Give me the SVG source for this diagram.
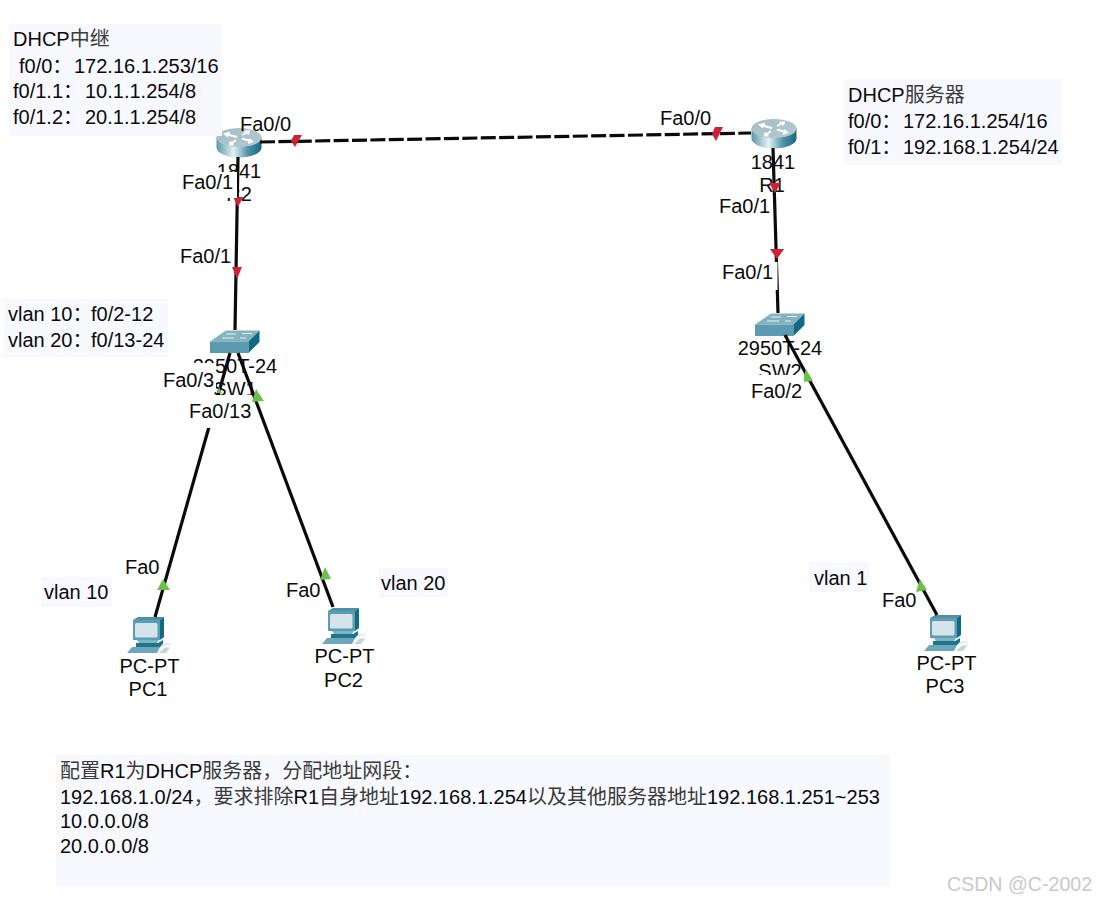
<svg xmlns="http://www.w3.org/2000/svg" width="1098" height="901" viewBox="0 0 1098 901">
<style>
text{font-family:"Liberation Sans","Noto Sans CJK SC",sans-serif;font-size:20px;fill:#0a0a0a}
.m{text-anchor:middle}
.c{fill:#3a3a3a}
.panel{fill:#f8f9fe}
.bg{fill:#fff}
.link{stroke:#0a0a0a;stroke-width:3.2;fill:none}
.dash{stroke-dasharray:15 3.400}
.red{fill:#cf2236}
.green{fill:#6cbf4b}
.wm{fill:#c9c9c9;font-size:19.6px}
</style>
<defs>
<linearGradient id="side" x1="0" x2="1" y1="0" y2="0"><stop offset="0" stop-color="#5a98a8"/><stop offset=".38" stop-color="#e4f1f3"/><stop offset=".7" stop-color="#4f93a6"/><stop offset="1" stop-color="#17697f"/></linearGradient>
<linearGradient id="top" x1="0" x2="1" y1="0" y2="1"><stop offset="0" stop-color="#a6bdc7"/><stop offset="1" stop-color="#b4c9d1"/></linearGradient>
<symbol id="router" width="46" height="30" viewBox="0 0 46 30" overflow="visible">
<path d="M0.500 9.500V19.500C0.500 25 10.500 29.500 23 29.500S45.500 25 45.500 19.500V9.500Z" fill="url(#side)"/>
<ellipse cx="23" cy="9.500" rx="22.500" ry="9.500" fill="url(#top)"/>
<path d="M9 6L21 9M14 4.500L9 6L12 8.500M36 13.500L26 10.500M32 15L36 13.500L33 11M26 7L33 3.500M28.500 3.500L33 3.500L32 6.500M20 12L14 16.500M17.500 16.500L14 16.500L14.500 13.500" stroke="#fff" stroke-width="1.900" fill="none"/>
</symbol>
<symbol id="switch" width="50" height="24" viewBox="0 0 50 24" overflow="visible">
<path d="M0 11.500L16 0.500H49.500L38.500 11.500Z" fill="#83b3c1"/>
<path d="M0 11.500H38.500V23H0Z" fill="#5b9bb0"/>
<path d="M38.500 11.500L49.500 0.500V12L38.500 23Z" fill="#0f6a85"/>
<path d="M16 4H26M32 3.500H42M12 8H24M30 8H36" stroke="#e8f2f4" stroke-width="1.200" fill="none"/>
</symbol>
<symbol id="pc" width="40" height="38" viewBox="0 0 40 38" overflow="visible">
<path d="M1 3L6 0H32L28 3Z" fill="#4e90a6"/>
<path d="M1 3H28V23H1Z" fill="#5c9db3"/>
<path d="M28 3L32 0V20L28 23Z" fill="#0f6a85"/>
<rect x="3" y="6" width="22.500" height="14.500" rx="1.500" fill="#d5e4ea"/>
<path d="M5 23H27L25 26H7Z" fill="#7fb3c2"/>
<path d="M4 26H26L31 23V27L27 31H4Z" fill="#1f7590"/>
<path d="M-5 36L0 30H28L25 36Z" fill="#6da8ba"/>
<path d="M27 36L33 30.500H38L34 36Z" fill="#c4d5da"/>
<path d="M31 29C33 26 37 26 38 29" stroke="#c4d5da" stroke-width="1" fill="none"/>
</symbol>
</defs>

<g id="R0">
<use href="#router" x="216" y="128"/>
<text class="m" x="239" y="178">1841</text>
<text class="m" x="239" y="201">R2</text>
</g>
<g id="R1">
<use href="#router" x="751" y="119"/>
<text class="m" x="773" y="169">1841</text>
<text class="m" x="772" y="192">R1</text>
</g>
<g id="SW1">
<use href="#switch" x="210" y="330"/>
<text class="m" x="235" y="373">2950T-24</text>
<text class="m" x="235" y="396">SW1</text>
</g>
<g id="SW2">
<use href="#switch" x="755" y="313"/>
<text class="m" x="780" y="355">2950T-24</text>
<text class="m" x="780" y="378">SW2</text>
</g>
<g id="PC1">
<use href="#pc" x="132" y="617"/>
<text class="m" x="149.500" y="673">PC-PT</text>
<text class="m" x="148" y="696">PC1</text>
</g>
<g id="PC2">
<use href="#pc" x="327" y="608"/>
<text class="m" x="344.500" y="663">PC-PT</text>
<text class="m" x="343.500" y="687">PC2</text>
</g>
<g id="PC3">
<use href="#pc" x="929" y="615"/>
<text class="m" x="946.500" y="670">PC-PT</text>
<text class="m" x="945" y="693">PC3</text>
</g>

<g id="connectors">
<path class="link dash" d="M260 142L751 133"/>
<path class="link" d="M238 157L235 330"/>
<path class="link" d="M773 148L778 313"/>
<path class="link" d="M230 353L155 617"/>
<path class="link" d="M238 353L333 607"/>
<path class="link" d="M785 335L937 615"/>
<path class="red" d="M294 135L302 135L295 147L291 141Z"/>
<path class="red" d="M715 127L723 127L716 141L712 134Z"/>
<path class="red" d="M233 197L243 197L238 207Z"/>
<path class="red" d="M232 267L242 267L237 279Z"/>
<path class="red" d="M769 183L781 183L775 193Z"/>
<path class="red" d="M770 249L784 249L777 259Z"/>
<path class="green" d="M252 402L264 401L256 389Z"/>
<path class="green" d="M157 590L170 590L163 579Z"/>
<path class="green" d="M320 580L331 579L325 567Z"/>
<path class="green" d="M802 382L813 381L806 369Z"/>
<path class="green" d="M916 592L927 590L920 579Z"/>
<path class="green" d="M217 393L222 393L219 387Z"/>
</g>

<g id="link-labels">
<rect class="bg" x="160" y="363" width="56" height="29"/>
<rect class="bg" x="189" y="395" width="63" height="33"/>
<rect class="bg" x="180" y="172" width="57" height="26"/>
<rect class="bg" x="749" y="375" width="55" height="30"/>
<rect class="bg" x="718" y="194" width="52" height="26"/>
<rect class="bg" x="720" y="262" width="57.500" height="28"/>
<text x="240" y="131">Fa0/0</text>
<text x="660" y="125">Fa0/0</text>
<text x="182" y="189">Fa0/1</text>
<text x="180" y="263">Fa0/1</text>
<text x="719" y="213">Fa0/1</text>
<text x="722" y="279">Fa0/1</text>
<text x="163" y="387">Fa0/3</text>
<text x="189" y="418">Fa0/13</text>
<text x="751" y="398">Fa0/2</text>
<text x="125" y="574">Fa0</text>
<text x="286" y="597">Fa0</text>
<text x="882" y="607">Fa0</text>
</g>

<g id="note-relay">
<rect class="panel" x="9" y="24" width="213" height="112"/>
<text x="13" y="46">DHCP<tspan class="c">中继</tspan></text>
<text x="19" y="73">f0/0：<tspan x="74">172.16.1.253/16</tspan></text>
<text x="13" y="98">f0/1.1：<tspan x="85">10.1.1.254/8</tspan></text>
<text x="13" y="124">f0/1.2：<tspan x="85">20.1.1.254/8</tspan></text>
</g>
<g id="note-server">
<rect class="panel" x="844" y="79" width="218" height="86"/>
<text x="848" y="102">DHCP<tspan class="c">服务器</tspan></text>
<text x="848" y="128">f0/0：<tspan x="903">172.16.1.254/16</tspan></text>
<text x="848" y="154">f0/1：<tspan x="903">192.168.1.254/24</tspan></text>
</g>
<g id="note-vlans">
<rect class="panel" x="4" y="298" width="164" height="60"/>
<text x="8" y="321">vlan 10：<tspan x="91">f0/2-12</tspan></text>
<text x="8" y="347">vlan 20：<tspan x="91">f0/13-24</tspan></text>
</g>
<g id="note-vlan10">
<rect class="panel" x="41" y="577" width="71" height="30"/>
<text x="44" y="599">vlan 10</text>
</g>
<g id="note-vlan20">
<rect class="panel" x="379" y="568" width="69" height="30"/>
<text x="381" y="590">vlan 20</text>
</g>
<g id="note-vlan1">
<rect class="panel" x="809" y="562" width="60" height="30"/>
<text x="814" y="585">vlan 1</text>
</g>
<g id="note-task">
<rect class="panel" x="56" y="755" width="834" height="132"/>
<text x="60" y="778"><tspan class="c">配置</tspan>R1<tspan class="c">为</tspan>DHCP<tspan class="c">服务器，分配地址网段：</tspan></text>
<text x="60" y="804">192.168.1.0/24<tspan class="c">，要求排除</tspan>R1<tspan class="c">自身地址</tspan>192.168.1.254<tspan class="c">以及其他服务器地址</tspan>192.168.1.251~253</text>
<text x="60" y="828">10.0.0.0/8</text>
<text x="60" y="853">20.0.0.0/8</text>
</g>
<text class="wm" x="947" y="891">CSDN @C-2002</text>
</svg>
